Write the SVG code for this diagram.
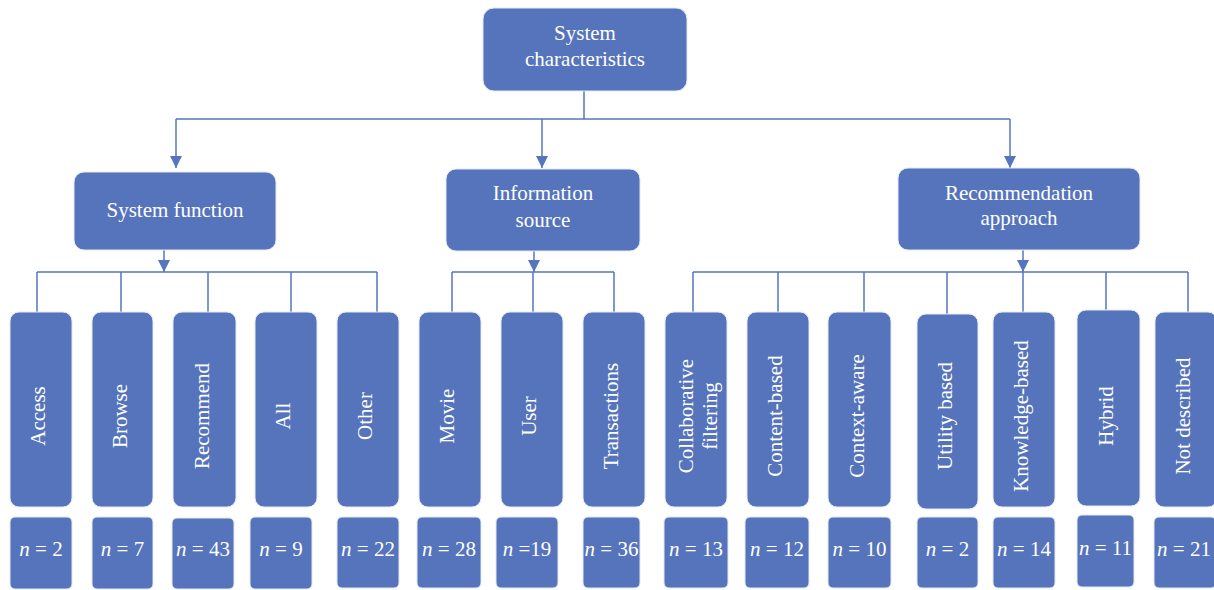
<svg xmlns="http://www.w3.org/2000/svg" width="1214" height="590" viewBox="0 0 1214 590">
<defs>
<style>
.box{fill:#5574bb;stroke:#e3e9f5;stroke-width:1}
.t{font-family:"Liberation Serif","Times New Roman",serif;font-size:21px;fill:#ffffff;text-anchor:middle}
.h{font-size:21px}
.c{fill:none;stroke:#5576be;stroke-width:1.5}
</style>
<marker id="arr" viewBox="0 0 12 12" refX="12" refY="6" markerWidth="12" markerHeight="12" orient="auto" markerUnits="userSpaceOnUse"><path d="M0,0 L12,6 L0,12 z" fill="#5576be"/></marker>
</defs>
<rect width="1214" height="590" fill="#ffffff"/>
<g id="connectors">
<path class="c" d="M584,91 V119 M176,119 H1010"/>
<path class="c" d="M176,119 V168" marker-end="url(#arr)"/>
<path class="c" d="M542,119 V168" marker-end="url(#arr)"/>
<path class="c" d="M1010,119 V168" marker-end="url(#arr)"/>
<path class="c" d="M164,250 V272" marker-end="url(#arr)"/>
<path class="c" d="M534,250 V272" marker-end="url(#arr)"/>
<path class="c" d="M1023,250 V272" marker-end="url(#arr)"/>
<path class="c" d="M37,272 H377 M37,272 V312 M121,272 V312 M208,272 V312 M291,272 V312 M377,272 V312"/>
<path class="c" d="M452,272 H614 M452,272 V312 M533,272 V312 M614,272 V312"/>
<path class="c" d="M693,272 H1188 M693,272 V312 M778,272 V312 M864,272 V312 M947,272 V314 M1023,272 V312 M1106,272 V310 M1188,272 V312"/>
</g>
<g id="n-root"><rect class="box" x="483" y="8" width="204" height="83" rx="11"/><text class="t h" x="585" y="40">System</text><text class="t h" x="585" y="66">characteristics</text></g>
<g id="n-function"><rect class="box" x="74" y="172" width="202" height="78" rx="10"/><text class="t h" x="175" y="217">System function</text></g>
<g id="n-source"><rect class="box" x="446" y="169" width="194" height="82" rx="10"/><text class="t h" x="543" y="200">Information</text><text class="t h" x="543" y="227">source</text></g>
<g id="n-approach"><rect class="box" x="898" y="168" width="242" height="82" rx="10"/><text class="t h" x="1019" y="200">Recommendation</text><text class="t h" x="1019" y="225">approach</text></g>

<g id="n-access"><rect class="box" x="10" y="312" width="62" height="195" rx="9"/><text class="t" transform="translate(45,416) rotate(-90)">Access</text></g>
<g id="n-browse"><rect class="box" x="92" y="312" width="61" height="195" rx="9"/><text class="t" transform="translate(126.5,416) rotate(-90)">Browse</text></g>
<g id="n-recommend"><rect class="box" x="173" y="312" width="63" height="195" rx="9"/><text class="t" transform="translate(208.5,416) rotate(-90)">Recommend</text></g>
<g id="n-all"><rect class="box" x="255" y="312" width="62" height="195" rx="9"/><text class="t" transform="translate(290,416) rotate(-90)">All</text></g>
<g id="n-other"><rect class="box" x="337" y="312" width="62" height="195" rx="9"/><text class="t" transform="translate(372,416) rotate(-90)">Other</text></g>
<g id="n-movie"><rect class="box" x="419" y="312" width="62" height="195" rx="9"/><text class="t" transform="translate(454,416) rotate(-90)">Movie</text></g>
<g id="n-user"><rect class="box" x="501" y="312" width="62" height="195" rx="9"/><text class="t" transform="translate(536,416) rotate(-90)">User</text></g>
<g id="n-transactions"><rect class="box" x="583" y="312" width="62" height="195" rx="9"/><text class="t" transform="translate(618,416) rotate(-90)">Transactions</text></g>
<g id="n-collab"><rect class="box" x="665" y="312" width="62" height="195" rx="9"/><text class="t" transform="translate(693,416) rotate(-90)">Collaborative</text><text class="t" transform="translate(717,416) rotate(-90)">filtering</text></g>
<g id="n-content"><rect class="box" x="747" y="312" width="62" height="195" rx="9"/><text class="t" transform="translate(782,416) rotate(-90)">Content-based</text></g>
<g id="n-context"><rect class="box" x="828" y="312" width="63" height="195" rx="9"/><text class="t" transform="translate(863.5,416) rotate(-90)">Context-aware</text></g>
<g id="n-utility"><rect class="box" x="917" y="314" width="61" height="195" rx="9"/><text class="t" transform="translate(951.5,416) rotate(-90)">Utility based</text></g>
<g id="n-knowledge"><rect class="box" x="993" y="312" width="62" height="195" rx="9"/><text class="t" transform="translate(1028,416) rotate(-90)">Knowledge-based</text></g>
<g id="n-hybrid"><rect class="box" x="1077" y="310" width="63" height="196" rx="9"/><text class="t" transform="translate(1112.5,416) rotate(-90)">Hybrid</text></g>
<g id="n-notdescribed"><rect class="box" x="1155" y="312" width="62" height="195" rx="9"/><text class="t" transform="translate(1190,416) rotate(-90)">Not described</text></g>

<g id="c-access"><rect class="box" x="10" y="517" width="62" height="72" rx="5"/><text class="t" x="41" y="556"><tspan font-style="italic">n</tspan> = 2</text></g>
<g id="c-browse"><rect class="box" x="92" y="517" width="61" height="72" rx="5"/><text class="t" x="122.5" y="556"><tspan font-style="italic">n</tspan> = 7</text></g>
<g id="c-recommend"><rect class="box" x="172" y="518" width="62" height="71" rx="5"/><text class="t" x="203" y="556"><tspan font-style="italic">n</tspan> = 43</text></g>
<g id="c-all"><rect class="box" x="250" y="517" width="62" height="72" rx="5"/><text class="t" x="281" y="556"><tspan font-style="italic">n</tspan> = 9</text></g>
<g id="c-other"><rect class="box" x="337" y="517" width="62" height="71" rx="5"/><text class="t" x="368" y="556"><tspan font-style="italic">n</tspan> = 22</text></g>
<g id="c-movie"><rect class="box" x="417" y="517" width="64" height="71" rx="5"/><text class="t" x="449" y="556"><tspan font-style="italic">n</tspan> = 28</text></g>
<g id="c-user"><rect class="box" x="496" y="517" width="62" height="71" rx="5"/><text class="t" x="527" y="556"><tspan font-style="italic">n</tspan> =19</text></g>
<g id="c-transactions"><rect class="box" x="583" y="517" width="57" height="71" rx="5"/><text class="t" x="611.5" y="556"><tspan font-style="italic">n</tspan> = 36</text></g>
<g id="c-collab"><rect class="box" x="664" y="517" width="64" height="71" rx="5"/><text class="t" x="696" y="556"><tspan font-style="italic">n</tspan> = 13</text></g>
<g id="c-content"><rect class="box" x="745" y="517" width="64" height="71" rx="5"/><text class="t" x="777" y="556"><tspan font-style="italic">n</tspan> = 12</text></g>
<g id="c-context"><rect class="box" x="828" y="517" width="63" height="71" rx="5"/><text class="t" x="859.5" y="556"><tspan font-style="italic">n</tspan> = 10</text></g>
<g id="c-utility"><rect class="box" x="917" y="517" width="61" height="71" rx="5"/><text class="t" x="947.5" y="556"><tspan font-style="italic">n</tspan> = 2</text></g>
<g id="c-knowledge"><rect class="box" x="993" y="517" width="62" height="71" rx="5"/><text class="t" x="1024" y="556"><tspan font-style="italic">n</tspan> = 14</text></g>
<g id="c-hybrid"><rect class="box" x="1077" y="515" width="57" height="72" rx="5"/><text class="t" x="1105.5" y="555"><tspan font-style="italic">n</tspan> = 11</text></g>
<g id="c-notdescribed"><rect class="box" x="1154" y="517" width="62" height="71" rx="5"/><text class="t" x="1184" y="556"><tspan font-style="italic">n</tspan> = 21</text></g>
</svg>
